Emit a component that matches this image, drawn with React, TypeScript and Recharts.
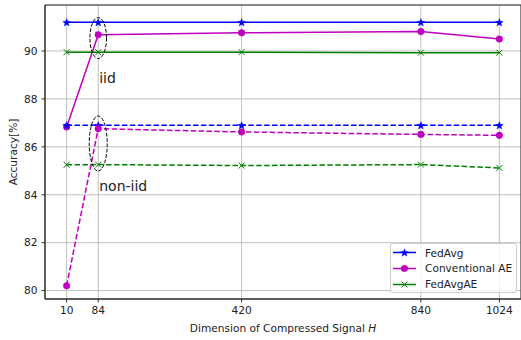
import React from 'react';
import {
  LineChart,
  Line,
  XAxis,
  YAxis,
  CartesianGrid,
  ReferenceDot,
  ReferenceArea,
  Legend,
  Label,
} from 'recharts';

// ---------- data ----------
const dims = [10, 84, 420, 840, 1024];
const xTicks = [10, 84, 420, 840, 1024];
const yTicks = [80, 82, 84, 86, 88, 90];
const fedAvgIid = [91.2, 91.2, 91.2, 91.2, 91.2];
const fedAvgNonIid = [86.9, 86.9, 86.9, 86.9, 86.9];
const convAeIid = [86.83, 90.68, 90.76, 90.81, 90.5];
const convAeNonIid = [80.2, 86.76, 86.62, 86.52, 86.48];
const fedAvgAeIid = [89.95, 89.95, 89.95, 89.93, 89.93];
const fedAvgAeNonIid = [85.25, 85.26, 85.22, 85.26, 85.12];

const xDomain = [-40.7, 1074.7];
const yDomain = [79.65, 91.92];

const groups = [
  { name: 'iid', x: 84, ellipseY: 90.54, rx: 8.3, ry: 20.5, textY: 88.68 },
  { name: 'non-iid', x: 84, ellipseY: 86.14, rx: 9, ry: 27.5, textY: 84.17 },
];

const data = dims.map((x, i) => ({
  x,
  fedAvgIid: fedAvgIid[i],
  fedAvgNonIid: fedAvgNonIid[i],
  convAeIid: convAeIid[i],
  convAeNonIid: convAeNonIid[i],
  fedAvgAeIid: fedAvgAeIid[i],
  fedAvgAeNonIid: fedAvgAeNonIid[i],
}));

const BLUE = '#0000ff';
const MAGENTA = '#bf00bf';
const GREEN = '#008000';
const FONT = '"DejaVu Sans", sans-serif';
const FS = 10.6;
const DASH = '5.5 2.4';

// ---------- markers ----------
function starPath(cx: number, cy: number, R: number) {
  const r = R * 0.42;
  let d = '';
  for (let i = 0; i < 10; i++) {
    const rad = i % 2 === 0 ? R : r;
    const a = -Math.PI / 2 + (i * Math.PI) / 5;
    d += (i === 0 ? 'M' : 'L') + (cx + rad * Math.cos(a)).toFixed(2) + ',' + (cy + rad * Math.sin(a)).toFixed(2);
  }
  return d + 'Z';
}

const Marker = ({ kind, cx, cy, color }: { kind: string; cx: number; cy: number; color: string }) => {
  if (cx == null || cy == null) return null;
  if (kind === 'star') return <path d={starPath(cx, cy + 0.4, 4)} fill={color} stroke={color} strokeWidth={0.5} />;
  if (kind === 'circle') return <circle cx={cx} cy={cy} r={3.3} fill={color} stroke={color} strokeWidth={0.5} />;
  const s = 3;
  return (
    <path
      d={`M${cx - s},${cy - s}L${cx + s},${cy + s}M${cx - s},${cy + s}L${cx + s},${cy - s}`}
      stroke={color}
      strokeWidth={1}
      fill="none"
    />
  );
};

const dotFn = (kind: string, color: string) => (p: any) => (
  <g key={`${kind}-${color}-${p.index}`}>
    <Marker kind={kind} cx={p.cx} cy={p.cy} color={color} />
  </g>
);

const seriesDefs = [
  { key: 'fedAvgIid', color: BLUE, kind: 'star', dashed: false },
  { key: 'convAeIid', color: MAGENTA, kind: 'circle', dashed: false },
  { key: 'fedAvgAeIid', color: GREEN, kind: 'x', dashed: false },
  { key: 'fedAvgNonIid', color: BLUE, kind: 'star', dashed: true },
  { key: 'convAeNonIid', color: MAGENTA, kind: 'circle', dashed: true },
  { key: 'fedAvgAeNonIid', color: GREEN, kind: 'x', dashed: true },
];

const legendItems = [
  { name: 'FedAvg', color: BLUE, kind: 'star' },
  { name: 'Conventional AE', color: MAGENTA, kind: 'circle' },
  { name: 'FedAvgAE', color: GREEN, kind: 'x' },
];

const LegendBox = () => (
  <div
    style={{
      width: 125,
      height: 48,
      border: '1px solid #cccccc',
      borderRadius: 3,
      background: 'rgba(255,255,255,0.8)',
      fontFamily: FONT,
      fontSize: FS,
      color: '#222',
      position: 'relative',
    }}
  >
    {legendItems.map((it, i) => (
      <div
        key={it.name}
        style={{ position: 'absolute', left: 2, top: 1 + i * 15.8, height: 15, display: 'flex', alignItems: 'center' }}
      >
        <svg width={24} height={15} style={{ display: 'block' }}>
          <line x1={0} x2={23} y1={7.5} y2={7.5} stroke={it.color} strokeWidth={1.5} />
          <Marker kind={it.kind} cx={11.5} cy={7.5} color={it.color} />
        </svg>
        <span style={{ marginLeft: 8, whiteSpace: 'nowrap' }}>{it.name}</span>
      </div>
    ))}
  </div>
);

const XLabel = (props: any) => {
  const vb = props.viewBox || { x: 45, y: 299, width: 476, height: 41 };
  return (
    <text
      x={vb.x + vb.width / 2}
      y={vb.y + 29}
      textAnchor="middle"
      dominantBaseline="central"
      fontFamily={FONT}
      fontSize={FS}
      fill="#222"
    >
      Dimension of Compressed Signal <tspan fontStyle="italic">H</tspan>
    </text>
  );
};

const YLabel = (props: any) => {
  const vb = props.viewBox || { x: 0, y: 5, width: 45, height: 294 };
  const cx = 13;
  const cy = vb.y + vb.height / 2;
  return (
    <text
      x={cx}
      y={cy}
      transform={`rotate(-90 ${cx} ${cy})`}
      textAnchor="middle"
      dominantBaseline="central"
      fontFamily={FONT}
      fontSize={FS}
      fill="#222"
    >
      Accuracy[%]
    </text>
  );
};

export default function App() {
  const tickStyle = { fontFamily: FONT, fontSize: FS, fill: '#222' };
  return (
    <div style={{ position: 'absolute', left: 0, top: 0, width: 521, height: 340, background: '#fff' }}>
      <LineChart width={521} height={340} data={data} margin={{ top: 5, right: 0, bottom: 0, left: 0 }}>
        <CartesianGrid stroke="#b0b0b0" strokeWidth={0.8} />
        <XAxis
          dataKey="x"
          type="number"
          domain={xDomain}
          allowDataOverflow
          ticks={xTicks}
          height={41}
          tick={tickStyle}
          tickSize={3.5}
          tickMargin={3.5}
          stroke="#333"
          tickLine={{ stroke: '#333' }}
          axisLine={{ stroke: '#333' }}
        >
          <Label content={<XLabel />} />
        </XAxis>
        <YAxis
          type="number"
          domain={yDomain}
          allowDataOverflow
          ticks={yTicks}
          width={45}
          tick={tickStyle}
          tickSize={3.5}
          tickMargin={4}
          stroke="#333"
          tickLine={{ stroke: '#333' }}
          axisLine={{ stroke: '#333' }}
        >
          <Label content={<YLabel />} />
        </YAxis>
        <ReferenceArea
          x1={xDomain[0]}
          x2={xDomain[1]}
          y1={yDomain[0]}
          y2={yDomain[1]}
          fill="none"
          stroke="#333"
          strokeWidth={1}
          ifOverflow="visible"
        />
        {seriesDefs.map((s) => (
          <Line
            key={s.key}
            dataKey={s.key}
            stroke={s.color}
            strokeWidth={1.5}
            strokeDasharray={s.dashed ? DASH : undefined}
            dot={dotFn(s.kind, s.color)}
            activeDot={false}
            isAnimationActive={false}
            type="linear"
          />
        ))}
        {groups.map((g) => (
          <ReferenceDot
            key={'e-' + g.name}
            x={g.x}
            y={g.ellipseY}
            ifOverflow="visible"
            shape={(p: any) => (
              <ellipse
                cx={p.cx}
                cy={p.cy}
                rx={g.rx}
                ry={g.ry}
                fill="none"
                stroke="#000"
                strokeWidth={1}
                strokeDasharray="3.7 1.6"
              />
            )}
          />
        ))}
        {groups.map((g) => (
          <ReferenceDot
            key={'t-' + g.name}
            x={g.x}
            y={g.textY}
            ifOverflow="visible"
            shape={(p: any) => (
              <text x={p.cx + 1} y={p.cy} fontFamily={FONT} fontSize={14} fill="#222" textAnchor="start">
                {g.name}
              </text>
            )}
          />
        ))}
        <Legend
          layout="vertical"
          align="center"
          verticalAlign="middle"
          wrapperStyle={{ left: 390, top: 243, width: 127, height: 50 }}
          content={() => <LegendBox />}
        />
      </LineChart>
    </div>
  );
}
